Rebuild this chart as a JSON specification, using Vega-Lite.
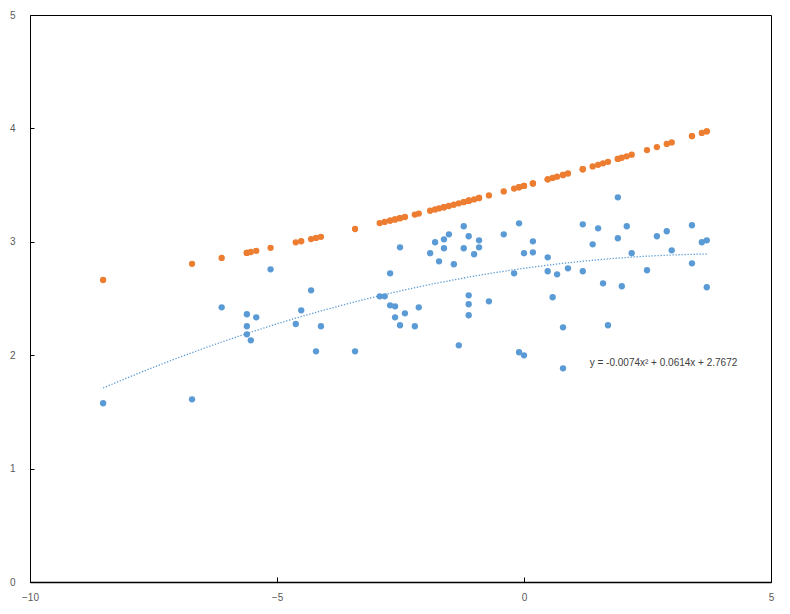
{
  "$schema": "https://vega.github.io/schema/vega-lite/v6.json",
  "autosize": "none",
  "padding": {"left": 30, "top": 15, "right": 19, "bottom": 32},
  "width": 741,
  "height": 567,
  "background": "white",
  "config": {
    "view": {"stroke": "black", "strokeWidth": 1},
    "axis": {
      "grid": false,
      "domain": true,
      "domainColor": "black",
      "domainWidth": 1.5,
      "tickColor": "black",
      "tickWidth": 1,
      "labelColor": "#595959",
      "labelFont": "Liberation Sans",
      "labelFontSize": 10,
      "title": null
    }
  },
  "data": {
    "values": [
      {"x": -8.52, "a": 1.576, "b": 2.663},
      {"x": -6.72, "a": 1.611, "b": 2.806},
      {"x": -6.12, "a": 2.422, "b": 2.858},
      {"x": -5.61, "a": 2.361, "b": 2.903},
      {"x": -5.61, "a": 2.255, "b": 2.903},
      {"x": -5.61, "a": 2.184, "b": 2.903},
      {"x": -5.53, "a": 2.131, "b": 2.910},
      {"x": -5.42, "a": 2.334, "b": 2.920},
      {"x": -5.13, "a": 2.757, "b": 2.947},
      {"x": -4.62, "a": 2.275, "b": 2.995},
      {"x": -4.51, "a": 2.396, "b": 3.005},
      {"x": -4.31, "a": 2.572, "b": 3.024},
      {"x": -4.21, "a": 2.034, "b": 3.034},
      {"x": -4.11, "a": 2.255, "b": 3.044},
      {"x": -3.42, "a": 2.034, "b": 3.113},
      {"x": -2.92, "a": 2.519, "b": 3.165},
      {"x": -2.82, "a": 2.519, "b": 3.175},
      {"x": -2.71, "a": 2.722, "b": 3.187},
      {"x": -2.71, "a": 2.440, "b": 3.187},
      {"x": -2.61, "a": 2.431, "b": 3.197},
      {"x": -2.61, "a": 2.334, "b": 3.197},
      {"x": -2.51, "a": 2.951, "b": 3.208},
      {"x": -2.51, "a": 2.264, "b": 3.208},
      {"x": -2.41, "a": 2.369, "b": 3.219},
      {"x": -2.21, "a": 2.255, "b": 3.240},
      {"x": -2.13, "a": 2.422, "b": 3.249},
      {"x": -1.90, "a": 2.899, "b": 3.274},
      {"x": -1.80, "a": 2.996, "b": 3.285},
      {"x": -1.72, "a": 2.828, "b": 3.294},
      {"x": -1.62, "a": 3.022, "b": 3.305},
      {"x": -1.62, "a": 2.943, "b": 3.305},
      {"x": -1.52, "a": 3.066, "b": 3.316},
      {"x": -1.42, "a": 2.802, "b": 3.327},
      {"x": -1.32, "a": 2.087, "b": 3.339},
      {"x": -1.22, "a": 3.137, "b": 3.350},
      {"x": -1.22, "a": 2.943, "b": 3.350},
      {"x": -1.12, "a": 3.049, "b": 3.362},
      {"x": -1.12, "a": 2.528, "b": 3.362},
      {"x": -1.12, "a": 2.449, "b": 3.362},
      {"x": -1.12, "a": 2.352, "b": 3.362},
      {"x": -1.01, "a": 2.890, "b": 3.374},
      {"x": -0.91, "a": 3.013, "b": 3.386},
      {"x": -0.91, "a": 2.951, "b": 3.386},
      {"x": -0.71, "a": 2.475, "b": 3.409},
      {"x": -0.41, "a": 3.066, "b": 3.444},
      {"x": -0.20, "a": 2.722, "b": 3.469},
      {"x": -0.10, "a": 3.163, "b": 3.481},
      {"x": -0.10, "a": 2.026, "b": 3.481},
      {"x": 0.00, "a": 2.899, "b": 3.493},
      {"x": 0.00, "a": 1.999, "b": 3.493},
      {"x": 0.18, "a": 3.004, "b": 3.514},
      {"x": 0.18, "a": 2.907, "b": 3.514},
      {"x": 0.48, "a": 2.863, "b": 3.551},
      {"x": 0.48, "a": 2.740, "b": 3.551},
      {"x": 0.58, "a": 2.511, "b": 3.563},
      {"x": 0.67, "a": 2.713, "b": 3.574},
      {"x": 0.79, "a": 2.246, "b": 3.589},
      {"x": 0.79, "a": 1.884, "b": 3.589},
      {"x": 0.89, "a": 2.766, "b": 3.602},
      {"x": 1.19, "a": 3.154, "b": 3.640},
      {"x": 1.19, "a": 2.740, "b": 3.640},
      {"x": 1.39, "a": 2.978, "b": 3.665},
      {"x": 1.50, "a": 3.119, "b": 3.679},
      {"x": 1.60, "a": 2.634, "b": 3.692},
      {"x": 1.70, "a": 2.264, "b": 3.705},
      {"x": 1.90, "a": 3.392, "b": 3.731},
      {"x": 1.90, "a": 3.031, "b": 3.731},
      {"x": 1.98, "a": 2.608, "b": 3.741},
      {"x": 2.08, "a": 3.137, "b": 3.754},
      {"x": 2.18, "a": 2.899, "b": 3.768},
      {"x": 2.49, "a": 2.749, "b": 3.809},
      {"x": 2.69, "a": 3.049, "b": 3.835},
      {"x": 2.89, "a": 3.093, "b": 3.863},
      {"x": 2.99, "a": 2.925, "b": 3.876},
      {"x": 3.40, "a": 3.146, "b": 3.932},
      {"x": 3.40, "a": 2.810, "b": 3.932},
      {"x": 3.60, "a": 2.996, "b": 3.960},
      {"x": 3.70, "a": 3.013, "b": 3.974},
      {"x": 3.70, "a": 2.599, "b": 3.974}
    ]
  },
  "layer": [
    {
      "mark": {"type": "point", "filled": true, "opacity": 1, "size": 40, "color": "#5B9BD5"},
      "encoding": {
        "x": {"field": "x", "type": "quantitative", "scale": {"domain": [-10, 5], "nice": false, "zero": false},
              "axis": {"values": [-10, -5, 0, 5], "format": "d", "tickSize": -5, "labelPadding": 15, "labelFlush": false}},
        "y": {"field": "a", "type": "quantitative", "scale": {"domain": [0, 5], "nice": false},
              "axis": {"values": [0, 1, 2, 3, 4, 5], "format": "d", "tickSize": -4, "labelPadding": 19, "domain": false}}
      }
    },
    {
      "mark": {"type": "point", "filled": true, "opacity": 1, "size": 40, "color": "#ED7D31"},
      "encoding": {
        "x": {"field": "x", "type": "quantitative"},
        "y": {"field": "b", "type": "quantitative"}
      }
    },
    {
      "transform": [{"regression": "a", "on": "x", "method": "poly", "order": 2}],
      "mark": {"type": "line", "color": "#5B9BD5", "strokeWidth": 1.3, "strokeDash": [1.3, 1.7]},
      "encoding": {
        "x": {"field": "x", "type": "quantitative"},
        "y": {"field": "a", "type": "quantitative"}
      }
    },
    {
      "data": {"values": [{"x": 1.33, "y": 1.93, "label": "y = -0.0074x² + 0.0614x + 2.7672"}]},
      "mark": {"type": "text", "align": "left", "baseline": "middle", "font": "Liberation Sans", "fontSize": 10, "color": "#404040"},
      "encoding": {
        "x": {"field": "x", "type": "quantitative"},
        "y": {"field": "y", "type": "quantitative"},
        "text": {"field": "label"}
      }
    }
  ]
}
